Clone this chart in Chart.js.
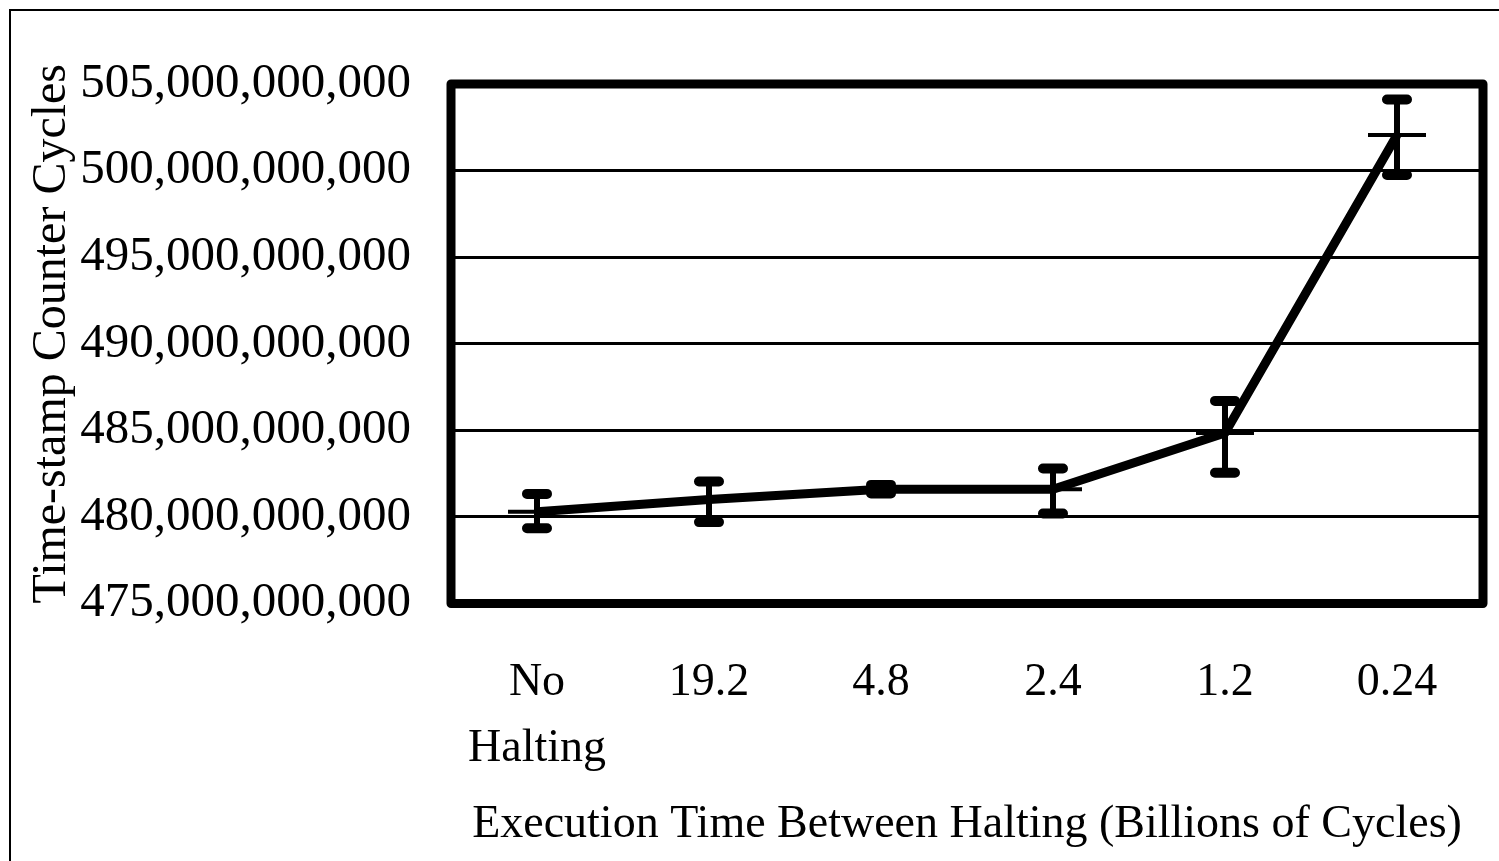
<!DOCTYPE html>
<html>
<head>
<meta charset="utf-8">
<script src="https://cdn.jsdelivr.net/npm/chart.js@4/dist/chart.umd.min.js"></script>
<style>
    html, body { margin: 0; padding: 0; background: #fff; overflow: hidden; }
    #frame {
        position: absolute; left: 9px; top: 9px;
        width: 1600px; height: 900px;
        border-left: 2px solid #000; border-top: 2px solid #000;
    }
    #tscChart { position: absolute; left: 0; top: 0; }
</style>
</head>
<body>
<div id="frame"></div>
<canvas id="tscChart" width="1499" height="861"></canvas>

<script>
// ================= DATA =================
const categories = [["No", "Halting"], "19.2", "4.8", "2.4", "1.2", "0.24"];
const tscCycles = [480.3e9, 481.0e9, 481.6e9, 481.6e9, 484.85e9, 502.05e9];
const errorHigh = [481.33e9, 482.05e9, 481.85e9, 482.8e9, 486.7e9, 504.1e9];
const errorLow = [479.35e9, 479.7e9, 481.35e9, 480.2e9, 482.55e9, 499.75e9];
const yTicks = { min: 475e9, max: 505e9, step: 5e9 };

const serif = "'Liberation Serif', 'Times New Roman', serif";

// ================= PLUGINS =================
const plotBox = {
    id: "plotBox",
    beforeDatasetsDraw(chart) {
        const { ctx, chartArea: a } = chart;
        ctx.save();
        ctx.strokeStyle = "#000";
        ctx.lineWidth = 9;
        ctx.lineJoin = "round";
        ctx.strokeRect(a.left, a.top, a.right - a.left, a.bottom - a.top);
        ctx.restore();
    }
};

const errorBars = {
    id: "errorBars",
    afterDatasetsDraw(chart) {
        const { ctx, scales } = chart;
        const x = scales.x, y = scales.y;
        ctx.save();
        ctx.strokeStyle = "#000";
        ctx.lineCap = "round";
        tscCycles.forEach((v, i) => {
            const px = x.getPixelForValue(i);
            const top = y.getPixelForValue(errorHigh[i]);
            const bot = y.getPixelForValue(errorLow[i]);
            ctx.lineWidth = 6;
            ctx.beginPath();
            ctx.moveTo(px, top);
            ctx.lineTo(px, bot);
            ctx.stroke();
            ctx.lineWidth = 10;
            ctx.beginPath();
            ctx.moveTo(px - 10, top);
            ctx.lineTo(px + 10, top);
            ctx.moveTo(px - 10, bot);
            ctx.lineTo(px + 10, bot);
            ctx.stroke();
        });
        ctx.restore();
    }
};

// ================= CHART =================
window.onload = function () {
    new Chart(document.getElementById("tscChart"), {
        type: "line",
        data: {
            labels: categories,
            datasets: [{
                label: "Time-stamp Counter Cycles",
                data: tscCycles,
                borderColor: "#000",
                borderWidth: 9,
                borderJoinStyle: "round",
                tension: 0,
                pointStyle: "line",
                pointRadius: 29,
                pointBorderWidth: 4,
                pointBorderColor: "#000",
                pointBackgroundColor: "#000"
            }]
        },
        options: {
            responsive: false,
            animation: false,
            devicePixelRatio: 1,
            layout: {
                autoPadding: false,
                padding: { left: 0, top: 84, right: 16, bottom: 0 }
            },
            plugins: {
                legend: { display: false },
                tooltip: { enabled: false }
            },
            scales: {
                x: {
                    offset: true,
                    grid: { display: false, drawTicks: false },
                    border: { display: false },
                    ticks: {
                        color: "#000",
                        padding: 47,
                        maxRotation: 0,
                        autoSkip: false,
                        font: { family: serif, size: 46, lineHeight: 1.42 }
                    },
                    title: {
                        display: true,
                        text: "Execution Time Between Halting (Billions of Cycles)",
                        color: "#000",
                        font: { family: serif, size: 46 },
                        padding: { top: 0, bottom: 8 }
                    },
                    afterFit(scale) {
                        scale.height = 861 - 603.5;
                        scale.paddingLeft = 0;
                        scale.paddingRight = 0;
                    }
                },
                y: {
                    min: yTicks.min,
                    max: yTicks.max,
                    grid: { color: "#000", lineWidth: 3, drawTicks: false },
                    border: { display: false },
                    ticks: {
                        stepSize: yTicks.step,
                        color: "#000",
                        padding: 40,
                        font: { family: serif, size: 49 },
                        callback: v => v.toLocaleString("en-US")
                    },
                    title: {
                        display: true,
                        text: "Time-stamp Counter Cycles",
                        align: "start",
                        color: "#000",
                        font: { family: serif, size: 48 },
                        padding: { top: 24, bottom: 0 }
                    },
                    afterFit(scale) {
                        scale.width = 451;
                        scale.paddingTop = 0;
                        scale.paddingBottom = 0;
                    }
                }
            }
        },
        plugins: [plotBox, errorBars]
    });
};
</script>
</body>
</html>
